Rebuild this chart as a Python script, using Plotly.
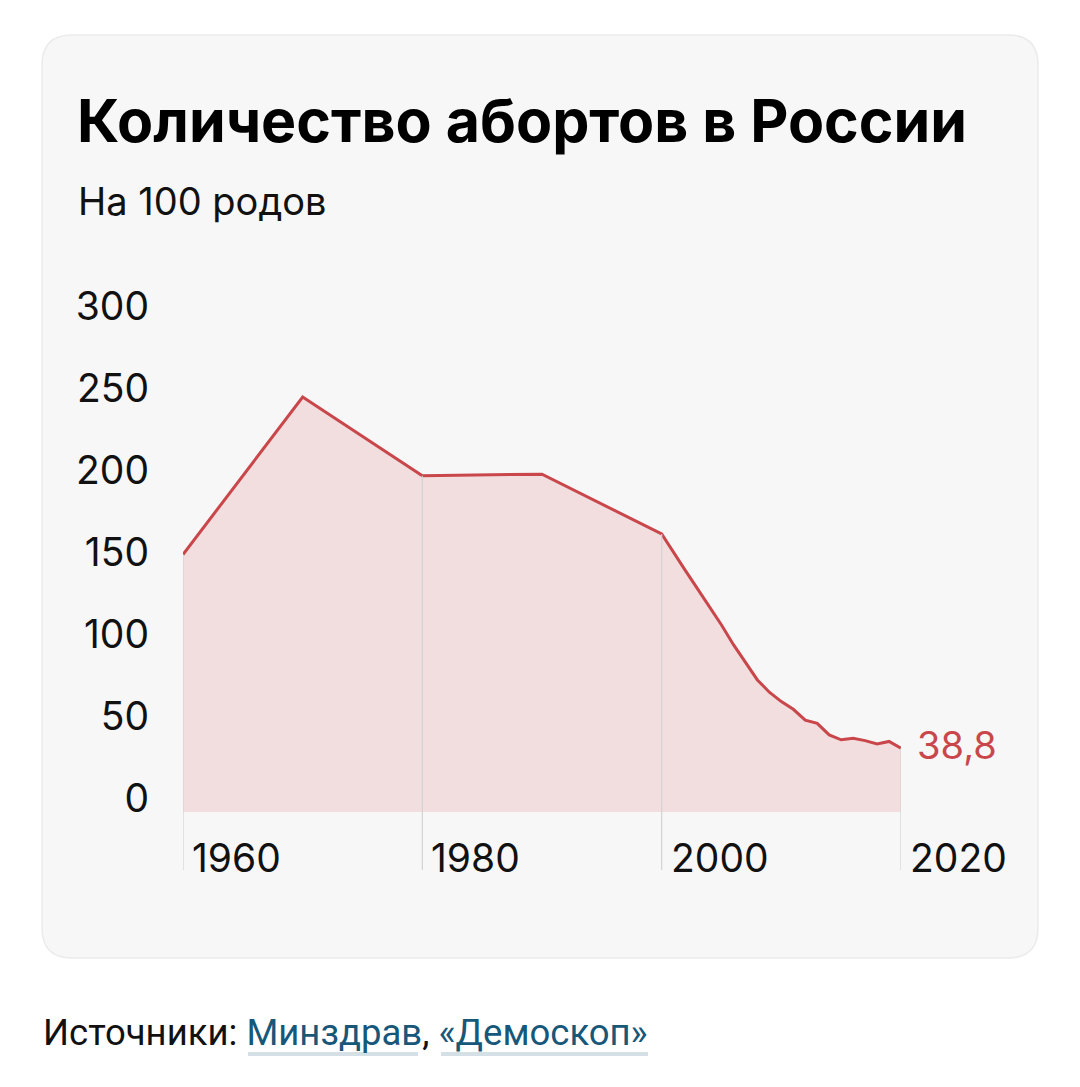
import plotly.graph_objects as go

# ---- data ----
years = [1960, 1970, 1980, 1990, 2000, 2001, 2002, 2003, 2004, 2005, 2006, 2007,
         2008, 2009, 2010, 2011, 2012, 2013, 2014, 2015, 2016, 2017, 2018, 2019, 2020]
values = [157, 253, 205, 206, 169.5, 158, 147, 136, 125, 114, 102, 91,
          80.5, 73, 67.3, 62.6, 56, 54, 47, 44, 45, 43.5, 41.5, 43, 38.8]
y_ticks = [0, 50, 100, 150, 200, 250, 300]
x_ticks = [1960, 1980, 2000, 2020]
last_label = "38,8"

title = "Количество абортов в России"
subtitle = "На 100 родов"

W, H = 1080, 1087
def px(x):
    return x / W
def py(y):
    return 1 - y / H

LINE = "#c9464a"
FILL = "rgba(218,82,88,0.15)"
GRID = "#d2d2d2"
TXT = "#111111"

fig = go.Figure()
fig.add_trace(go.Scatter(
    x=years, y=values, mode="lines",
    line=dict(color=LINE, width=3),
    fill="tozeroy", fillcolor=FILL,
    cliponaxis=False, hoverinfo="skip", showlegend=False,
))

Y_BOTTOM = -35.4
shapes = []
# card
l, r, t, b, rad = px(42), px(1038), py(35), py(958), 30
rx, ry = rad / W, rad / H
path = (f"M {l+rx},{t} L {r-rx},{t} Q {r},{t} {r},{t-ry} L {r},{b+ry} Q {r},{b} {r-rx},{b} "
        f"L {l+rx},{b} Q {l},{b} {l},{b+ry} L {l},{t-ry} Q {l},{t} {l+rx},{t} Z")
shapes.append(dict(type="path", path=path, xref="paper", yref="paper",
                   fillcolor="#f7f7f7", line=dict(color="#ebebeb", width=1.5), layer="below"))
# vertical guide lines from the value down below the axis
for xt in x_ticks:
    v = values[years.index(xt)]
    shapes.append(dict(type="line", xref="x", yref="y", x0=xt, x1=xt, y0=Y_BOTTOM, y1=v,
                       line=dict(color=GRID, width=1.2), layer="above"))

annotations = []
for xt in x_ticks:
    annotations.append(dict(x=xt, y=-27.5, xref="x", yref="y", text=str(xt),
                            xanchor="left", yanchor="middle", xshift=7, showarrow=False,
                            font=dict(family="Inter", size=39, color=TXT)))
annotations.append(dict(x=years[-1], y=values[-1], xref="x", yref="y", text=last_label,
                        xanchor="left", yanchor="middle", xshift=14, yshift=3, showarrow=False,
                        font=dict(family="Inter", size=38, color=LINE)))
annotations.append(dict(x=px(75), y=py(120), xref="paper", yref="paper", text=f"<b>{title}</b>",
                        xanchor="left", yanchor="middle", showarrow=False,
                        font=dict(family="Inter", size=59, color="#000000")))
annotations.append(dict(x=px(76), y=py(201), xref="paper", yref="paper", text=subtitle,
                        xanchor="left", yanchor="middle", showarrow=False,
                        font=dict(family="Inter", size=38, color=TXT)))
src = ("Источники: <span style='color:#17577a'>Минздрав</span>, "
       "<span style='color:#17577a'>«Демоскоп»</span>")
annotations.append(dict(x=px(41), y=py(1032), xref="paper", yref="paper", text=src,
                        xanchor="left", yanchor="middle", showarrow=False,
                        font=dict(family="Roboto", size=36.5, color="#111111")))
# link underlines
for x0, x1 in [(248, 418), (441, 648)]:
    shapes.append(dict(type="line", xref="paper", yref="paper", x0=px(x0), x1=px(x1),
                       y0=py(1054), y1=py(1054), line=dict(color="#d5e0e6", width=4)))

fig.update_layout(
    template="none",
    width=W, height=H, autosize=False,
    margin=dict(l=0, r=0, t=0, b=0, pad=0),
    paper_bgcolor="#ffffff", plot_bgcolor="rgba(0,0,0,0)",
    shapes=shapes, annotations=annotations,
    xaxis=dict(domain=[px(183), px(901)], range=[1960, 2020], showgrid=False, automargin=False,
               zeroline=False, showticklabels=False, ticks="", showline=False, fixedrange=True),
    yaxis=dict(domain=[py(870), py(320)], range=[Y_BOTTOM, 300], showgrid=False, automargin=False,
               zeroline=False, tickvals=y_ticks, ticktext=[str(v) for v in y_ticks],
               ticks="", showline=False, ticklabelstandoff=33, ticklabelshift=-14,
               tickfont=dict(family="Inter", size=39, color=TXT), fixedrange=True),
)

fig.write_html("out.html")
